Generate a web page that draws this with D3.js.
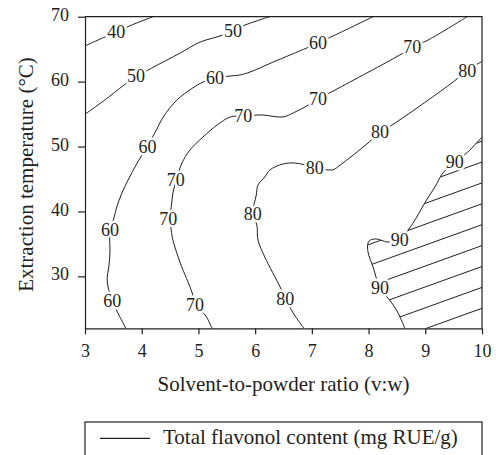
<!DOCTYPE html>
<html>
<head>
<meta charset="utf-8">
<script src="https://cdn.jsdelivr.net/npm/d3@7"></script>
<style>
  body { margin: 0; background: #fff; }
  text { font-family: "Liberation Serif", "Times New Roman", serif; fill: #231f20; }
</style>
</head>
<body>
<svg id="chart" width="496" height="455"></svg>
<script>
// Axes
const xDomain = [3, 10];
const yDomain = [22, 70];
const xTicks = [3, 4, 5, 6, 7, 8, 9, 10];
const yTicks = [30, 40, 50, 60, 70];
const xTitle = "Solvent-to-powder ratio (v:w)";
const yTitle = "Extraction temperature (°C)";
const legendLabel = "Total flavonol content (mg RUE/g)";

// Contour lines of total flavonol content: [solvent ratio, temperature]
const c40 = [[3.00,65.5],[3.33,66.8],[3.55,67.6],[3.79,68.6],[4.20,70]];
const c50 = [[3.00,54.97],[3.35,57.17],[3.69,59.48],[3.90,60.7],[4.18,62.10],[4.68,64.41],[5.03,66.10],
             [5.26,66.72],[5.43,67.18],[5.61,67.90],[5.87,68.88],[6.26,70]];
const c60 = [[3.72,22.0],[3.58,24.36],[3.48,26.21],[3.41,28.21],[3.39,29.75],[3.42,31.44],[3.44,33.75],
             [3.44,36.99],[3.51,38.99],[3.56,40.69],[3.65,42.84],[3.76,44.84],[3.92,47.46],[4.09,49.93],
             [4.23,52.08],[4.38,54.55],[4.62,57.17],[4.90,59.02],[5.08,59.94],[5.29,60.56],[5.57,60.87],
             [5.73,61.02],[5.91,61.48],[6.32,63.02],[6.91,65.18],[7.11,65.95],[7.41,67.18],[8.08,70]];
const c70 = [[5.24,22.0],[5.12,24.05],[4.94,25.59],[4.89,27.44],[4.68,32.06],[4.55,35.60],[4.52,37.14],
             [4.50,38.99],[4.53,41.30],[4.55,42.84],[4.61,44.84],[4.71,47.46],[4.85,49.47],[5.08,51.47],
             [5.33,53.32],[5.56,54.55],[5.79,54.70],[6.12,54.86],[6.49,54.55],[6.67,55.17],[6.91,56.24],
             [7.11,57.32],[7.41,58.71],[8.55,64.10],[8.77,65.26],[9.05,66.41],[9.74,70]];
const c80 = [[6.86,22.0],[6.67,24.36],[6.53,26.59],[6.44,28.36],[6.17,32.98],[6.05,35.60],[6.03,37.91],
             [5.96,39.68],[6.02,42.53],[6.05,44.07],[6.17,45.31],[6.26,46.39],[6.49,47.31],[6.70,47.46],
             [7.04,46.85],[7.36,46.39],[7.50,47.16],[7.99,50.54],[8.20,52.16],[8.47,53.63],[9.49,59.94],
             [9.74,61.71],[9.95,62.87],[10.0,63.10]];
const c90 = [[8.64,22.0],[8.52,24.36],[8.41,25.90],[8.20,28.28],[8.08,31.44],[7.99,33.75],[7.99,35.14],
             [8.03,35.60],[8.15,35.75],[8.33,35.29],[8.55,35.60],[8.70,37.14],[8.85,39.14],[9.00,41.46],
             [9.17,43.77],[9.31,45.92],[9.52,47.62],[9.75,49.16],[10.0,51.47]];

// Where each contour carries its value label
const labels40 = [[3.55,67.6]];
const labels50 = [[3.90,60.9],[5.61,67.8]];
const labels60 = [[3.48,26.2],[3.44,37.1],[4.10,50.0],[5.29,60.5],[7.11,66.0]];
const labels70 = [[4.94,25.6],[4.47,38.8],[4.60,44.8],[5.79,54.7],[7.11,57.3],[8.77,65.3]];
const labels80 = [[6.53,26.6],[5.96,39.7],[7.05,46.7],[8.20,52.2],[9.74,61.6]];
const labels90 = [[8.20,28.3],[8.55,35.6],[9.52,47.6]];

const contours = [
  { level: 40, line: c40, labels: labels40 },
  { level: 50, line: c50, labels: labels50 },
  { level: 60, line: c60, labels: labels60 },
  { level: 70, line: c70, labels: labels70 },
  { level: 80, line: c80, labels: labels80 },
  { level: 90, line: c90, labels: labels90 }
];
const hatchedLevel = 90;

const ink = "#231f20";
const plot = { left: 85, right: 482, top: 16.7, bottom: 328.3 };

const svg = d3.select("#chart");
const x = d3.scaleLinear().domain(xDomain).range([plot.left, plot.right]);
const y = d3.scaleLinear().domain(yDomain).range([plot.bottom, plot.top]);

const lineGen = d3.line()
  .x(d => x(d[0]))
  .y(d => y(d[1]))
  .curve(d3.curveCatmullRom.alpha(0.5));

const defs = svg.append("defs");
defs.append("clipPath").attr("id", "plot-clip")
  .append("rect")
  .attr("x", plot.left).attr("y", plot.top)
  .attr("width", plot.right - plot.left).attr("height", plot.bottom - plot.top);

// Region above the highest level, closed along the right and bottom edges
const peak = contours.find(c => c.level === hatchedLevel);
const region = peak.line.concat([[xDomain[1], yDomain[0]]]);
defs.append("clipPath").attr("id", "peak-clip")
  .append("path")
  .attr("d", d3.line().x(d => x(d[0])).y(d => y(d[1])).curve(d3.curveLinearClosed)(region));

const body = svg.append("g").attr("clip-path", "url(#plot-clip)");

// Diagonal hatching inside that region
const hatchSlope = 0.36, hatchStep = 20.9, hatchAnchor = 162;
const hatchRows = d3.range(-2, 12);
body.append("g")
  .attr("clip-path", "url(#peak-clip)")
  .selectAll("line")
  .data(hatchRows)
  .join("line")
  .attr("x1", plot.left)
  .attr("x2", plot.right)
  .attr("y1", k => hatchAnchor + k * hatchStep + hatchSlope * (plot.right - plot.left))
  .attr("y2", k => hatchAnchor + k * hatchStep)
  .attr("stroke", ink)
  .attr("stroke-width", 1);

body.selectAll("path.contour")
  .data(contours)
  .join("path")
  .attr("class", "contour")
  .attr("d", d => lineGen(d.line))
  .attr("fill", "none")
  .attr("stroke", ink)
  .attr("stroke-width", 1);

// Value labels with a white halo that breaks the line beneath
const labelData = contours.flatMap(c => c.labels.map(p => ({ level: c.level, p })));
svg.append("g").selectAll("text")
  .data(labelData)
  .join("text")
  .attr("x", d => x(d.p[0]))
  .attr("y", d => y(d.p[1]))
  .attr("dy", "0.34em")
  .attr("text-anchor", "middle")
  .attr("font-size", 18)
  .attr("stroke", "#fff")
  .attr("stroke-width", 5)
  .attr("stroke-linejoin", "round")
  .attr("paint-order", "stroke")
  .text(d => d.level);

// Axes
const xAxis = svg.append("g")
  .attr("transform", `translate(0,${plot.bottom})`)
  .call(d3.axisBottom(x).tickValues(xTicks).tickFormat(d3.format("d")).tickSize(6).tickSizeOuter(0).tickPadding(10));
const yAxis = svg.append("g")
  .attr("transform", `translate(${plot.left},0)`)
  .call(d3.axisLeft(y).tickValues(yTicks).tickFormat(d3.format("d")).tickSize(7).tickSizeOuter(0).tickPadding(9));

[xAxis, yAxis].forEach(g => {
  g.attr("font-family", null);
  g.select(".domain").attr("stroke", ink).attr("stroke-width", 1.2);
  g.selectAll(".tick line").attr("stroke", ink).attr("stroke-width", 1.2);
  g.selectAll(".tick text")
    .attr("font-size", 18)
    .attr("fill", ink);
});
yAxis.selectAll(".tick text").attr("dy", "0.2em");

// Frame on top and right
svg.append("path")
  .attr("d", `M${plot.left},${plot.top}H${plot.right}V${plot.bottom}`)
  .attr("fill", "none")
  .attr("stroke", ink)
  .attr("stroke-width", 1.2);

// Axis titles
svg.append("text")
  .attr("x", (plot.left + plot.right) / 2)
  .attr("y", 391)
  .attr("text-anchor", "middle")
  .attr("font-size", 21)
  .text(xTitle);

svg.append("text")
  .attr("transform", `translate(33,${(plot.top + plot.bottom) / 2 + 2}) rotate(-90)`)
  .attr("text-anchor", "middle")
  .attr("font-size", 21)
  .text(yTitle);

// Legend
const legend = svg.append("g");
legend.append("rect")
  .attr("x", plot.left).attr("y", 422)
  .attr("width", plot.right - plot.left).attr("height", 60)
  .attr("fill", "none").attr("stroke", ink).attr("stroke-width", 1.2);
legend.append("line")
  .attr("x1", 100).attr("x2", 150)
  .attr("y1", 438.3).attr("y2", 438.3)
  .attr("stroke", ink).attr("stroke-width", 1.2);
legend.append("text")
  .attr("x", 163).attr("y", 444)
  .attr("font-size", 21)
  .text(legendLabel);
</script>
</body>
</html>
